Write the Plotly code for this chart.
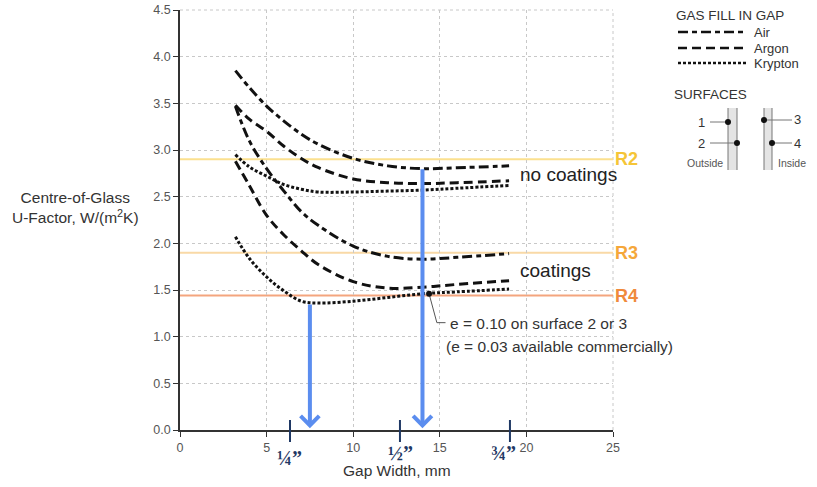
import plotly.graph_objects as go

# ---------------- data ----------------
gap_mm = [3.2, 4, 5, 6, 7, 8, 10, 12, 14, 16, 19]

air_no_coat = [3.85, 3.67, 3.47, 3.31, 3.17, 3.06, 2.91, 2.83, 2.80, 2.81, 2.83]
argon_no_coat = [3.48, 3.33, 3.20, 3.04, 2.91, 2.81, 2.69, 2.65, 2.64, 2.65, 2.67]
krypton_no_coat = [2.95, 2.82, 2.72, 2.63, 2.58, 2.55, 2.55, 2.56, 2.57, 2.59, 2.62]

air_coat = [3.47, 3.10, 2.80, 2.56, 2.34, 2.19, 1.97, 1.86, 1.83, 1.85, 1.89]
argon_coat = [2.88, 2.62, 2.30, 2.09, 1.92, 1.77, 1.59, 1.52, 1.53, 1.56, 1.60]
krypton_coat = [2.07, 1.84, 1.64, 1.49, 1.38, 1.36, 1.38, 1.42, 1.46, 1.48, 1.51]

r_levels = [2.9, 1.9, 1.44]
r_labels = ["R2", "R3", "R4"]

arrow_gaps = [7.5, 14.0]
arrow_tops = [1.36, 2.81]

inch_mm = [6.35, 12.7, 19.05]
inch_labels = ["¼”", "½”", "¾”"]

coat_point = (14.38, 1.46)

x_range = [0, 25]
y_range = [0, 4.5]

# ---------------- styles ----------------
AIR_DASH = "10px,4px,5px,4px"
ARGON_DASH = "9px,5px"
KR_DASH = "3px,2px"
LINE_COL = "#111111"
GRID_COL = "#C8C8C8"
W, H = 817, 487
PL, PR, PT, PB = 180, 613, 10, 430   # plot area in pixels
ML, MT, MR, MB = PL, PT, W - PR, H - PB
PW, PH = PR - PL, PB - PT


def xp(px):
    return (px - PL) / PW


def yp(py):
    return (PB - py) / PH


fig = go.Figure()

# edge gridlines (top and right)
fig.add_shape(type="line", xref="paper", yref="paper", x0=0, x1=1, y0=1, y1=1,
              line=dict(color=GRID_COL, width=1, dash="dot"), layer="below")
fig.add_shape(type="line", xref="paper", yref="paper", x0=1, x1=1, y0=0, y1=1,
              line=dict(color=GRID_COL, width=1, dash="dot"), layer="below")

series = [
    (air_no_coat, AIR_DASH, "Air"),
    (argon_no_coat, ARGON_DASH, "Argon"),
    (krypton_no_coat, KR_DASH, "Krypton"),
    (air_coat, AIR_DASH, "Air"),
    (argon_coat, ARGON_DASH, "Argon"),
    (krypton_coat, KR_DASH, "Krypton"),
]
for vals, dash, name in series:
    fig.add_trace(go.Scatter(
        x=gap_mm, y=vals, mode="lines", name=name, showlegend=False,
        line=dict(color=LINE_COL, width=3, dash=dash, shape="spline", smoothing=1.0),
        hoverinfo="skip"))

# R lines
r_line_cols = ["#FBE08F", "#F9D9A6", "#F4A57E"]
r_text_cols = ["#F5C537", "#F5A73A", "#F08A3C"]
for lvl, lab, lc, tc in zip(r_levels, r_labels, r_line_cols, r_text_cols):
    fig.add_shape(type="line", xref="paper", yref="y", x0=0, x1=1, y0=lvl, y1=lvl,
                  line=dict(color=lc, width=2), layer="below")
    fig.add_annotation(xref="paper", yref="y", x=1.0, y=lvl, xanchor="left", yanchor="middle",
                       text="<b>%s</b>" % lab, showarrow=False,
                       font=dict(family="Liberation Sans, Arial", size=18, color=tc))

# leader + dot for coating note
fig.add_trace(go.Scatter(
    x=[coat_point[0], coat_point[0] + 0.45, coat_point[0] + 0.95],
    y=[coat_point[1], coat_point[1] - 0.31, coat_point[1] - 0.31],
    mode="lines", line=dict(color="#555555", width=1), showlegend=False, hoverinfo="skip"))
fig.add_trace(go.Scatter(x=[coat_point[0]], y=[coat_point[1]], mode="markers",
                         marker=dict(color="#111111", size=6), showlegend=False, hoverinfo="skip"))

# blue arrows
for gx, top in zip(arrow_gaps, arrow_tops):
    fig.add_annotation(x=gx, y=0.02, ax=gx, ay=top, xref="x", yref="y", axref="x", ayref="y",
                       text="", showarrow=True, arrowhead=4, arrowsize=0.9, arrowwidth=4,
                       arrowcolor="#5B8DEF", standoff=0)

# inch ticks + labels
NAVY = "#1F3864"
for mm in inch_mm:
    fig.add_shape(type="line", xref="x", yref="paper", x0=mm, x1=mm, y0=yp(442), y1=yp(420),
                  line=dict(color=NAVY, width=2))
label_pos = [(289, 458), (400, 453), (503, 453)]
for (px, py), lab in zip(label_pos, inch_labels):
    fig.add_annotation(xref="paper", yref="paper", x=xp(px), y=yp(py), text="<b>%s</b>" % lab,
                       showarrow=False, xanchor="center", yanchor="middle",
                       font=dict(family="Liberation Serif, DejaVu Serif, serif", size=20, color=NAVY))

TXT = dict(family="Liberation Sans, Arial, sans-serif", color="#333333")

# text labels in chart
fig.add_annotation(x=19.5, y=2.74, text="no coatings", showarrow=False, xanchor="left",
                   yanchor="middle", font=dict(TXT, size=19, color="#222222"))
fig.add_annotation(x=19.5, y=1.71, text="coatings", showarrow=False, xanchor="left",
                   yanchor="middle", font=dict(TXT, size=19, color="#222222"))
fig.add_annotation(xref="paper", yref="paper", x=xp(448), y=yp(323), text="e = 0.10 on surface 2 or 3",
                   showarrow=False, xanchor="left", yanchor="middle", font=dict(TXT, size=15.5))
fig.add_annotation(xref="paper", yref="paper", x=xp(444), y=yp(346),
                   text="(e = 0.03 available commercially)",
                   showarrow=False, xanchor="left", yanchor="middle", font=dict(TXT, size=15.5))

# axis titles
fig.add_annotation(xref="paper", yref="paper", x=xp(75), y=yp(207),
                   text="Centre-of-Glass<br>U-Factor, W/(m<sup>2</sup>K)", showarrow=False,
                   xanchor="center", yanchor="middle", align="center", font=dict(TXT, size=15.5))
fig.add_annotation(xref="paper", yref="paper", x=0.5, y=yp(470), text="Gap Width, mm",
                   showarrow=False, xanchor="center", yanchor="middle", font=dict(TXT, size=15.5))

# ---------------- legend (drawn) ----------------
fig.add_annotation(xref="paper", yref="paper", x=xp(674), y=yp(16), text="GAS FILL IN GAP",
                   showarrow=False, xanchor="left", yanchor="middle", font=dict(TXT, size=13.5))
leg = [("Air", AIR_DASH, 32), ("Argon", ARGON_DASH, 48), ("Krypton", KR_DASH, 63)]
for name, dash, py in leg:
    fig.add_shape(type="line", xref="paper", yref="paper", x0=xp(678), x1=xp(746), y0=yp(py), y1=yp(py),
                  line=dict(color=LINE_COL, width=2.5, dash=dash))
    fig.add_annotation(xref="paper", yref="paper", x=xp(752), y=yp(py), text=name, showarrow=False,
                       xanchor="left", yanchor="middle", font=dict(TXT, size=13))

fig.add_annotation(xref="paper", yref="paper", x=xp(672), y=yp(95), text="SURFACES",
                   showarrow=False, xanchor="left", yanchor="middle", font=dict(TXT, size=13.5))

panes = [(728, 737), (764, 772)]
for a, b in panes:
    fig.add_shape(type="rect", xref="paper", yref="paper", x0=xp(a), x1=xp(b), y0=yp(170), y1=yp(108),
                  fillcolor="#E4E4E4", line=dict(width=0))
    for v in (a, b):
        fig.add_shape(type="line", xref="paper", yref="paper", x0=xp(v), x1=xp(v), y0=yp(170), y1=yp(108),
                      line=dict(color="#777777", width=1))

surf = [("1", 728, 122, 710, 701), ("2", 737, 143, 710, 701),
        ("3", 764, 120, 792, 797), ("4", 772, 143, 792, 797)]
for lab, dx, dy, lx, tx in surf:
    fig.add_shape(type="line", xref="paper", yref="paper", x0=xp(lx), x1=xp(dx), y0=yp(dy), y1=yp(dy),
                  line=dict(color="#777777", width=1))
    fig.add_shape(type="circle", xref="paper", yref="paper", x0=xp(dx - 3), x1=xp(dx + 3),
                  y0=yp(dy + 3), y1=yp(dy - 3), fillcolor="#111111", line=dict(width=0))
    fig.add_annotation(xref="paper", yref="paper", x=xp(tx), y=yp(dy), text=lab, showarrow=False,
                       xanchor="center", yanchor="middle", font=dict(TXT, size=13))
fig.add_annotation(xref="paper", yref="paper", x=xp(705), y=yp(163), text="Outside", showarrow=False,
                   xanchor="center", yanchor="middle", font=dict(TXT, size=10.5, color="#555555"))
fig.add_annotation(xref="paper", yref="paper", x=xp(792), y=yp(163), text="Inside", showarrow=False,
                   xanchor="center", yanchor="middle", font=dict(TXT, size=10.5, color="#555555"))

# ---------------- layout ----------------
axis_common = dict(showgrid=True, gridcolor=GRID_COL, griddash="dot", gridwidth=1,
                   zeroline=False, showline=True, linecolor="#333333", linewidth=1.5,
                   ticks="outside", ticklen=5, tickcolor="#333333", tickwidth=1.2,
                   automargin=False, ticklabeloverflow="allow",
                   tickfont=dict(family="Liberation Sans, Arial", size=12.5, color="#555555"))
fig.update_layout(
    width=W, height=H,
    margin=dict(l=ML, r=MR, t=MT, b=MB, pad=0, autoexpand=False),
    paper_bgcolor="white", plot_bgcolor="white",
    showlegend=False,
    xaxis=dict(axis_common, range=x_range, tick0=0, dtick=5),
    yaxis=dict(axis_common, range=y_range, tick0=0, dtick=0.5, tickformat=".1f"),
)

fig.write_html("out.html", config={"displayModeBar": False},
               post_script="document.body.style.margin='0px';")
